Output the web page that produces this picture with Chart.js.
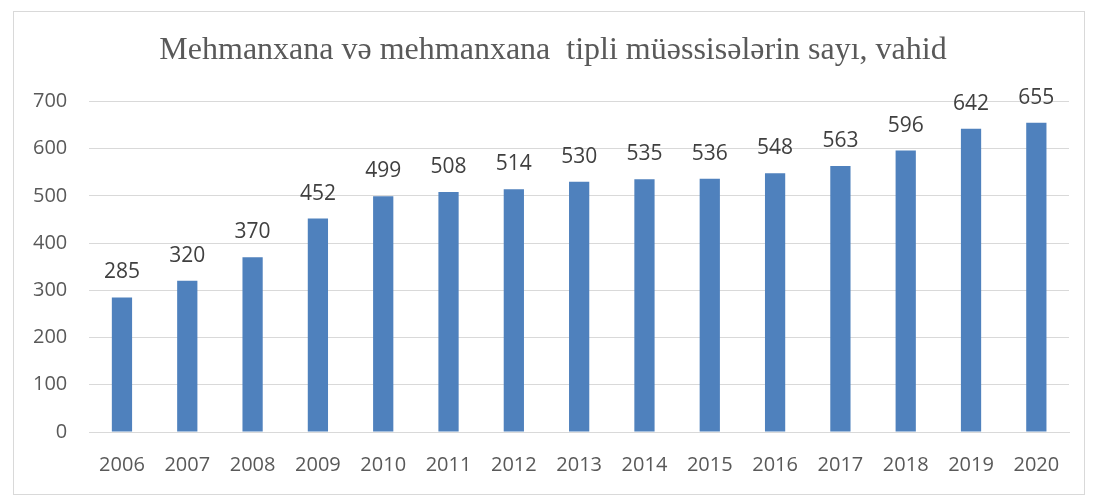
<!DOCTYPE html>
<html>
<head>
<meta charset="utf-8">
<script src="https://cdn.jsdelivr.net/npm/chart.js@4/dist/chart.umd.min.js"></script>
<style>
  html, body { margin: 0; padding: 0; background: #ffffff; }
  #wrap { position: relative; width: 1096px; height: 496px; }
</style>
</head>
<body>
<div id="wrap"><canvas id="hotelChart" width="1096" height="496"></canvas></div>
<script>
const years  = ['2006', '2007', '2008', '2009', '2010', '2011', '2012', '2013', '2014', '2015', '2016', '2017', '2018', '2019', '2020'];
const hotels = [285, 320, 370, 452, 499, 508, 514, 530, 535, 536, 548, 563, 596, 642, 655];
const yTicks = [0, 100, 200, 300, 400, 500, 600, 700];
const titleText = 'Mehmanxana və mehmanxana  tipli müəssisələrin sayı, vahid';

// ---- border around the whole chart ----
const framePlugin = {
    id: 'frame',
    beforeDraw(chart) {
        const ctx = chart.ctx;
        ctx.save();
        ctx.fillStyle = '#ffffff';
        ctx.fillRect(0, 0, chart.width, chart.height);
        ctx.strokeStyle = '#d9d9d9';
        ctx.lineWidth = 1;
        ctx.strokeRect(13.5, 11.5, 1071, 483);
        ctx.restore();
    }
};

// ---- title sits a little right of the layout centre ----
const titleNudge = {
    id: 'titleNudge',
    afterLayout(chart) {
        if (chart.titleBlock) {
            chart.titleBlock.left += 13;
            chart.titleBlock.right += 13;
        }
    }
};

// ---- value labels above the bars ----
const valueLabels = {
    id: 'valueLabels',
    afterDatasetsDraw(chart) {
        const ctx = chart.ctx;
        const meta = chart.getDatasetMeta(0);
        ctx.save();
        ctx.font = '21px "Open Sans", sans-serif';
        ctx.fillStyle = '#404040';
        ctx.textAlign = 'center';
        ctx.textBaseline = 'middle';
        meta.data.forEach((bar, i) => {
            ctx.fillText(String(hotels[i]), bar.x, bar.y - 25);
        });
        ctx.restore();
    }
};

new Chart(document.getElementById('hotelChart').getContext('2d'), {
    type: 'bar',
    data: {
        labels: years,
        datasets: [{
            data: hotels,
            backgroundColor: '#4f81bd',
            borderWidth: 0,
            barPercentage: 0.31,
            categoryPercentage: 1.0,
        }]
    },
    options: {
        responsive: false,
        animation: false,
        layout: { padding: { left: 11, right: 27, top: 20, bottom: 6 } },
        plugins: {
            legend: { display: false },
            tooltip: { enabled: false },
            title: {
                display: true,
                text: titleText,
                color: '#595959',
                font: { family: '"Liberation Serif", "Times New Roman", serif', size: 32, weight: 'normal' },
                padding: { top: 11, bottom: 32 },
            }
        },
        scales: {
            y: {
                min: 0,
                max: 700,
                afterBuildTicks(axis) { axis.ticks = yTicks.map(v => ({ value: v })); },
                ticks: {
                    color: '#595959',
                    font: { family: '"Open Sans", sans-serif', size: 20 },
                    padding: 22,
                },
                grid: { color: '#d9d9d9', drawTicks: false, lineWidth: 1 },
                border: { display: false },
            },
            x: {
                ticks: {
                    color: '#595959',
                    font: { family: '"Open Sans", sans-serif', size: 20 },
                    padding: 13,
                    maxRotation: 0,
                },
                grid: { display: false },
                border: { color: '#d9d9d9' },
            }
        }
    },
    plugins: [framePlugin, titleNudge, valueLabels]
});
</script>
</body>
</html>
